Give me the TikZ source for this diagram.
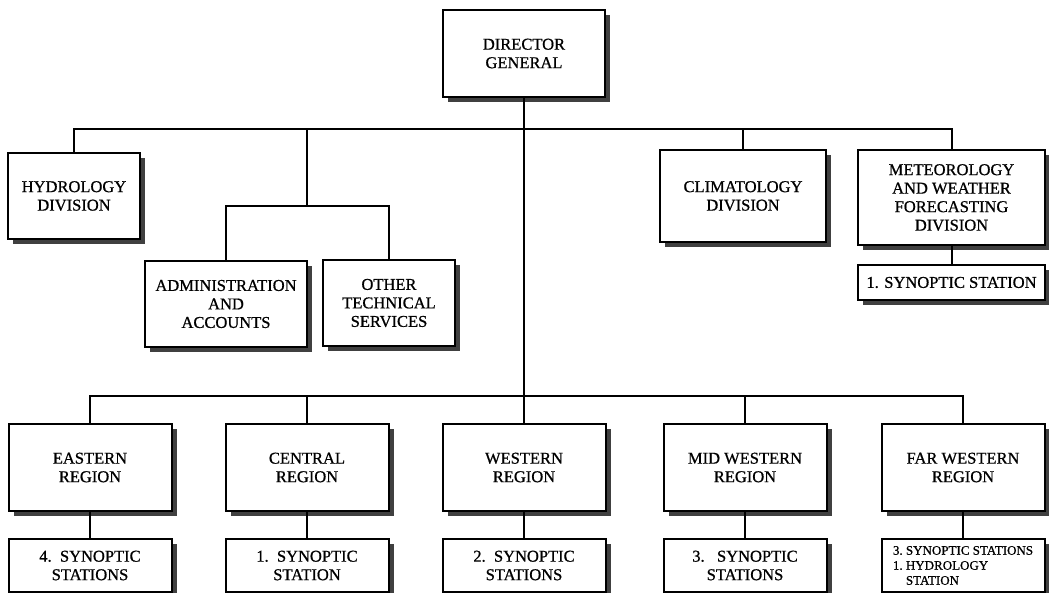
\documentclass[tikz,border=0pt]{standalone}
\usepackage{fontspec}
\setmainfont{Liberation Serif}[FakeBold=0.8]
\usetikzlibrary{positioning,shadows}

\begin{document}
\begin{tikzpicture}[
  x=1pt, y=1pt,
  every node/.style={font=\fontsize{16.5}{18.5}\selectfont},
  unit/.style={draw, line width=2pt, fill=white, align=center, inner sep=2pt,
               drop shadow={shadow xshift=5pt, shadow yshift=-5pt,
                            fill=black!75, opacity=1}},
  region/.style={unit, minimum width=163pt, minimum height=87pt},
  stn/.style={unit, minimum width=163pt, minimum height=53pt},
  link/.style={line width=2pt}
]
\useasboundingbox (0,0) rectangle (1049,-593);

% buses
\coordinate (topbus) at (0,-129);
\coordinate (subbus) at (0,-206);
\coordinate (botbus) at (0,-396);
\coordinate (admjoin) at (307,-129);

% head and divisions
\node[unit, minimum width=162pt, minimum height=87pt] (dg) at (524,-53.5)
  {DIRECTOR\\GENERAL};
\node[unit, minimum width=132pt, minimum height=86pt] (hyd) at (74,-196)
  {HYDROLOGY\\DIVISION};
\node[unit, minimum width=162pt, minimum height=86pt] (adm) at (226,-304)
  {ADMINISTRATION\\AND\\ACCOUNTS};
\node[unit, minimum width=132pt, minimum height=86pt] (oth) at (389,-303)
  {OTHER\\TECHNICAL\\SERVICES};
\node[unit, minimum width=166pt, minimum height=92pt] (cli) at (743,-196)
  {CLIMATOLOGY\\DIVISION};
\node[unit, minimum width=187pt, minimum height=95pt] (met) at (951.5,-197.5)
  {METEOROLOGY\\AND WEATHER\\FORECASTING\\DIVISION};
\node[unit, minimum width=187pt, minimum height=35pt, below=18pt of met] (metsub)
  {1. SYNOPTIC STATION};

% regions
\node[region] (east) at (90,-467.5) {EASTERN\\REGION};
\node[region] (cent) at (307,-467.5) {CENTRAL\\REGION};
\node[region] (west) at (524,-467.5) {WESTERN\\REGION};
\node[region] (mid) at (745,-467.5) {MID WESTERN\\REGION};
\node[region] (far) at (963,-467.5) {FAR WESTERN\\REGION};

\node[stn, below=26pt of east] (eastsub) {4.~~SYNOPTIC\\STATIONS};
\node[stn, below=26pt of cent] (centsub) {1.~~SYNOPTIC\\STATION};
\node[stn, below=26pt of west] (westsub) {2.~~SYNOPTIC\\STATIONS};
\node[stn, below=26pt of mid] (midsub) {3.~~~SYNOPTIC\\STATIONS};
\node[stn, below=26pt of far, align=left,
      font=\fontsize{13}{15}\selectfont] (farsub)
  {3.\ SYNOPTIC STATIONS\\1.\ HYDROLOGY\\\phantom{1.\ }STATION};

% connectors
\draw[link] (hyd.north) -- (hyd.north |- topbus) -| (met.north);
\draw[link] (cli.north) -- (cli.north |- topbus);
\draw[link] (admjoin) -- (admjoin |- subbus);
\draw[link] (adm.north) -- (adm.north |- subbus) -| (oth.north);
\draw[link] (met.south) -- (metsub.north);
\draw[link] (dg.south) -- (dg.south |- botbus);
\draw[link] (east.north) -- (east.north |- botbus) -| (far.north);
\foreach \r in {cent,west,mid}
  \draw[link] (\r.north) -- (\r.north |- botbus);
\foreach \r in {east,cent,west,mid,far}
  \draw[link] (\r.south) -- (\r sub.north);
\end{tikzpicture}
\end{document}
